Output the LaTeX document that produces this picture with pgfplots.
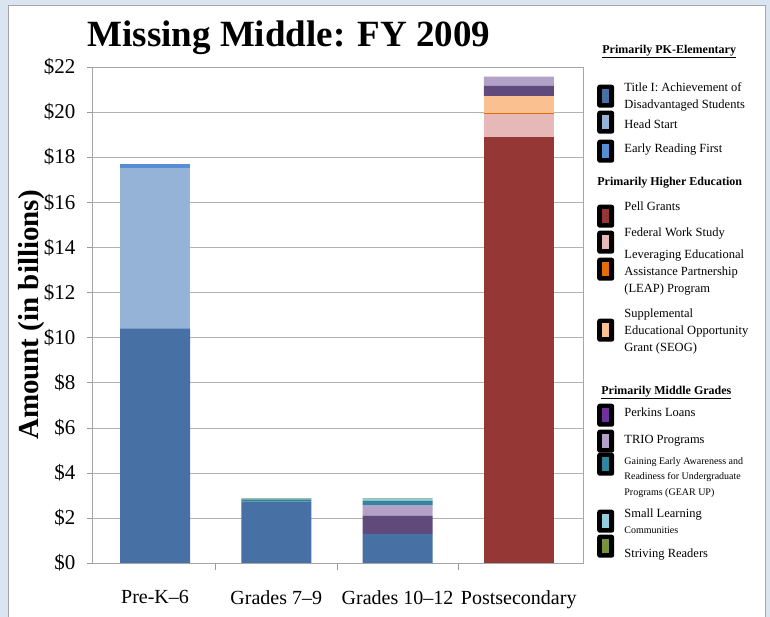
\documentclass[border=0pt]{standalone}
\usepackage{pgfplots}
\pgfplotsset{compat=1.18}
\usepackage{fontspec}
\setmainfont{Liberation Serif}
\definecolor{bgc}{HTML}{DBE5F1}
\definecolor{titleI}{HTML}{4770A4}
\definecolor{headstart}{HTML}{95B3D7}
\definecolor{erf}{HTML}{558ED5}
\definecolor{pell}{HTML}{953735}
\definecolor{fws}{HTML}{E6B9B8}
\definecolor{leap}{HTML}{E46C0A}
\definecolor{seog}{HTML}{FAC090}
\definecolor{perkins}{HTML}{604A7B}
\definecolor{perkinsleg}{HTML}{7030A0}
\definecolor{trio}{HTML}{B3A2C7}
\definecolor{gear}{HTML}{31859C}
\definecolor{slc}{HTML}{93CDDD}
\definecolor{striving}{HTML}{77933C}
\pgfplotsset{
  lrow/.style n args={6}{legend image code/.code={%
    \path[draw=none,fill=none] (0pt,-#3) rectangle (17pt,#2);
    \fill[black,draw=none,rounded corners=2.5pt] (0pt,-11.5pt) rectangle (17pt,11.5pt);
    \fill[#1,draw=none] (5pt,-7pt) rectangle (12pt,7pt);
    \node[overlay,anchor=west,inner sep=0pt,align=left,font=#5,draw=none,fill=none,text=black] at (27pt,#4) {#6};}},
  lhead/.style n args={4}{legend image code/.code={%
    \path[draw=none,fill=none] (0pt,-#2) rectangle (17pt,#1);
    \node[overlay,anchor=west,inner sep=0pt,draw=none,fill=none,text=black,font=\fontsize{12}{14}\selectfont\bfseries] at (#3,0pt) {#4};}},
}
\newcommand{\nf}{\fontsize{12.5}{17}\selectfont}
\begin{document}
\begin{tikzpicture}
\useasboundingbox (0,0) rectangle (770pt,617pt);
\fill[bgc] (0,0) rectangle (770pt,617pt);
\filldraw[fill=white,draw=gray!70] (8pt,-5pt) rectangle (765pt,612pt);
\begin{axis}[
  at={(92pt,54pt)}, anchor=south west,
  scale only axis, width=491pt, height=496pt,
  ybar stacked, bar width=70pt,
  xmin=-0.52, xmax=3.53, ymin=0, ymax=22,
  xtick={0,1,2,3},
  xticklabels={Pre-K--6, Grades 7--9, Grades 10--12, Postsecondary},
  minor xtick={0.5,1.5,2.5},
  major x tick style={draw=none},
  minor x tick style={gray!80, thin},
  minor tick length=7pt,
  ytick={0,2,...,22},
  yticklabels={\$0,\$2,\$4,\$6,\$8,\$10,\$12,\$14,\$16,\$18,\$20,\$22},
  tick align=outside, tick pos=left,
  major tick length=5pt,
  y tick style={gray!80, thin},
  ymajorgrids, major grid style={gray!60, thin},
  axis line style={gray!70},
  x tick label style={yshift=-19pt, font=\fontsize{20}{22}\selectfont},
  y tick label style={xshift=-8pt, font=\fontsize{21}{23}\selectfont},
  /pgf/number format/assume math mode=true,
  ylabel={Amount (in billions)},
  ylabel style={at={(axis description cs:-0.124,0.5)}, anchor=center, font=\fontsize{29}{32}\selectfont\bfseries},
  title={Missing Middle: FY 2009},
  title style={at={(axis description cs:0.401,1.030)}, anchor=base, font=\fontsize{37}{40}\selectfont\bfseries},
  legend style={at={(axis description cs:1.0285,1.0625)}, anchor=north west,
    draw=none, fill=none, inner sep=0pt, row sep=0pt, column sep=0pt,
    nodes={inner sep=0pt}, font=\nf},
  legend cell align=left,
]
\addplot[forget plot, fill=titleI, draw=none] coordinates {(0,10.4) (1,2.72) (2,1.29) (3,0)};
\addplot[forget plot, fill=headstart, draw=none] coordinates {(0,7.1) (1,0) (2,0) (3,0)};
\addplot[forget plot, fill=erf, draw=none] coordinates {(0,0.2) (1,0) (2,0) (3,0)};
\addplot[forget plot, fill=pell, draw=none] coordinates {(0,0) (1,0) (2,0) (3,18.9)};
\addplot[forget plot, fill=fws, draw=none] coordinates {(0,0) (1,0) (2,0) (3,1.0)};
\addplot[forget plot, fill=leap, draw=none] coordinates {(0,0) (1,0) (2,0) (3,0.06)};
\addplot[forget plot, fill=seog, draw=none] coordinates {(0,0) (1,0) (2,0) (3,0.76)};
\addplot[forget plot, fill=perkins, draw=none] coordinates {(0,0) (1,0) (2,0.81) (3,0.44)};
\addplot[forget plot, fill=trio, draw=none] coordinates {(0,0) (1,0) (2,0.47) (3,0.41)};
\addplot[forget plot, fill=gear, draw=none] coordinates {(0,0) (1,0.1) (2,0.2) (3,0)};
\addplot[forget plot, fill=slc, draw=none] coordinates {(0,0) (1,0.03) (2,0.08) (3,0)};
\addplot[forget plot, fill=striving, draw=none] coordinates {(0,0) (1,0.03) (2,0.03) (3,0)};

\addlegendimage{lhead={14pt}{23pt}{5pt}{\underline{Primarily PK-Elementary}}}
\addlegendentry{\mbox{}}
\addlegendimage{lrow={titleI}{23pt}{13pt}{0pt}{\nf}{Title I: Achievement of\\Disadvantaged Students}}
\addlegendentry{\mbox{}}
\addlegendimage{lrow={headstart}{13pt}{14.5pt}{-3pt}{\nf}{Head Start}}
\addlegendentry{\mbox{}}
\addlegendimage{lrow={erf}{14.5pt}{15.5pt}{2pt}{\nf}{Early Reading First}}
\addlegendentry{\mbox{}}
\addlegendimage{lhead={15.5pt}{17pt}{0pt}{Primarily Higher Education}}
\addlegendentry{\mbox{}}
\addlegendimage{lrow={pell}{17pt}{13pt}{9pt}{\nf}{Pell Grants}}
\addlegendentry{\mbox{}}
\addlegendimage{lrow={fws}{13pt}{13.5pt}{9pt}{\nf}{Federal Work Study}}
\addlegendentry{\mbox{}}
\addlegendimage{lrow={leap}{13.5pt}{30.5pt}{-3pt}{\nf}{Leveraging Educational\\Assistance Partnership\\(LEAP) Program}}
\addlegendentry{\mbox{}}
\addlegendimage{lrow={seog}{30.5pt}{30.5pt}{-1pt}{\nf}{Supplemental\\Educational Opportunity\\Grant (SEOG)}}
\addlegendentry{\mbox{}}
\addlegendimage{lhead={30.5pt}{12pt}{4pt}{\underline{Primarily Middle Grades}}}
\addlegendentry{\mbox{}}
\addlegendimage{lrow={perkinsleg}{12pt}{13pt}{2pt}{\nf}{Perkins Loans}}
\addlegendentry{\mbox{}}
\addlegendimage{lrow={trio}{13pt}{11.5pt}{1pt}{\nf}{TRIO Programs}}
\addlegendentry{\mbox{}}
\addlegendimage{lrow={gear}{11.5pt}{28.5pt}{-13pt}{\fontsize{10}{15.5}\selectfont}{Gaining Early Awareness and\\Readiness for Undergraduate\\Programs (GEAR UP)}}
\addlegendentry{\mbox{}}
\addlegendimage{lrow={slc}{28.5pt}{12.5pt}{-1pt}{\fontsize{12.5}{16}\selectfont}{Small Learning\\{\fontsize{10}{12}\selectfont Communities}}}
\addlegendentry{\mbox{}}
\addlegendimage{lrow={striving}{12.5pt}{14pt}{-8pt}{\nf}{Striving Readers}}
\addlegendentry{\mbox{}}
\end{axis}
\end{tikzpicture}
\end{document}
